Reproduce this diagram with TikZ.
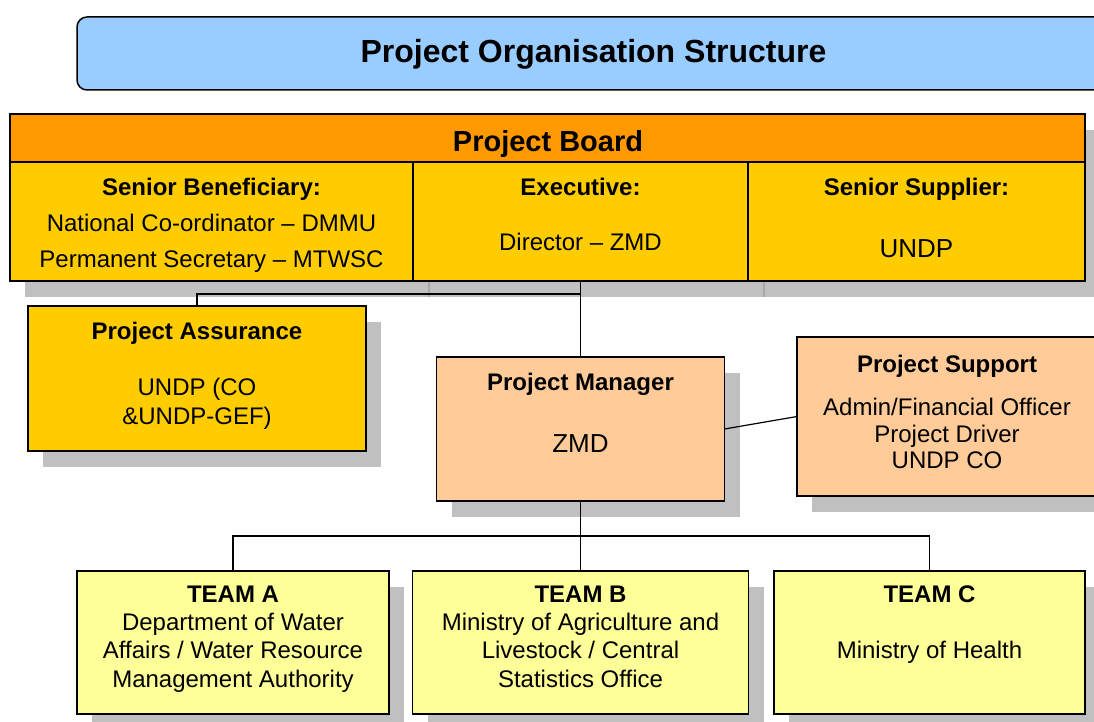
\documentclass[tikz,border=0pt]{standalone}
\usepackage{fontspec}
\setmainfont{Liberation Sans}
\usetikzlibrary{shadows}

\definecolor{titleblue}{HTML}{99CCFF}
\definecolor{boardorange}{HTML}{FF9900}
\definecolor{boardgold}{HTML}{FFCC00}
\definecolor{peach}{HTML}{FFCC99}
\definecolor{teamyellow}{HTML}{FFFF99}
\definecolor{shadegray}{HTML}{C0C0C0}
\definecolor{shadeline}{HTML}{A8A8A8}

\begin{document}
\begin{tikzpicture}[x=1pt, y=-1pt,
    box/.style={draw, line width=1.5pt, inner sep=0pt, outer sep=0pt},
    shadowed/.style={drop shadow={shadow xshift=15pt, shadow yshift=-16pt, fill=shadegray, opacity=1}},
    txt/.style={anchor=base, inner sep=0pt, font=\fontsize{24}{28}\selectfont},
    hd/.style={anchor=base, inner sep=0pt, font=\fontsize{24}{28}\selectfont\bfseries},
    big/.style={anchor=base, inner sep=0pt, font=\fontsize{26}{30}\selectfont},
    link/.style={line width=1.2pt}]
  \useasboundingbox (0,0) rectangle (1094,722);

  % title bar
  \node[box, rounded corners=10pt, fill=titleblue, minimum width=1033pt, minimum height=73pt] (title) at (593.5,53.5) {};
  \node[anchor=base, inner sep=0pt, font=\fontsize{32}{38}\selectfont\bfseries] (title-t) at (593.5,63) {Project Organisation Structure};

  % project board
  \node[box, shadowed, fill=boardorange, minimum width=1075pt, minimum height=48pt] (board) at (547.5,138) {};
  \node[anchor=base, inner sep=0pt, font=\fontsize{29}{34}\selectfont\bfseries] (board-t) at (548,152) {Project Board};
  \node[box, shadowed, fill=boardgold, minimum width=403pt, minimum height=119pt] (ben) at (211.5,221.5) {};
  \node[box, shadowed, fill=boardgold, minimum width=335pt, minimum height=119pt] (exec) at (580.5,221.5) {};
  \node[box, shadowed, fill=boardgold, minimum width=337pt, minimum height=119pt] (supp) at (916.5,221.5) {};
  \draw[shadeline, line width=1.5pt] (429,282) -- (429,297);
  \draw[shadeline, line width=1.5pt] (764,282) -- (764,297);

  \node[hd] (ben-t) at (211.5,195) {Senior Beneficiary:};
  \node[txt] (ben-1) at (211.5,231) {National Co-ordinator -- DMMU};
  \node[txt] (ben-2) at (211.5,267) {Permanent Secretary -- MTWSC};
  \node[hd] (exec-t) at (580.5,195) {Executive:};
  \node[txt] (exec-1) at (580.5,250) {Director -- ZMD};
  \node[hd] (supp-t) at (916.5,195) {Senior Supplier:};
  \node[big] (supp-1) at (916.5,257) {UNDP};

  % assurance, manager, support
  \node[box, shadowed, fill=boardgold, minimum width=338pt, minimum height=145pt] (pa) at (197,378.5) {};
  \node[hd] (pa-t) at (197,339) {Project Assurance};
  \node[txt] (pa-1) at (197,395) {UNDP (CO};
  \node[txt] (pa-2) at (197,424) {\&UNDP-GEF)};

  \node[box, shadowed, fill=peach, minimum width=288pt, minimum height=144pt] (pm) at (580.5,429) {};
  \node[hd] (pm-t) at (580.5,390) {Project Manager};
  \node[big] (pm-1) at (580.5,452) {ZMD};

  \node[box, shadowed, fill=peach, minimum width=300pt, minimum height=159pt] (ps) at (947,416.5) {};
  \node[hd] (ps-t) at (947,372) {Project Support};
  \node[txt] (ps-1) at (947,415) {Admin/Financial Officer};
  \node[txt] (ps-2) at (947,442) {Project Driver};
  \node[txt] (ps-3) at (947,468) {UNDP CO};

  % teams
  \node[box, shadowed, fill=teamyellow, minimum width=312pt, minimum height=143pt] (teama) at (233,642.5) {};
  \node[hd] (teama-t) at (233,602) {TEAM A};
  \node[txt] (teama-1) at (233,630) {Department of Water};
  \node[txt] (teama-2) at (233,658) {Affairs / Water Resource};
  \node[txt] (teama-3) at (233,687) {Management Authority};

  \node[box, shadowed, fill=teamyellow, minimum width=336pt, minimum height=143pt] (teamb) at (580.5,642.5) {};
  \node[hd] (teamb-t) at (580.5,602) {TEAM B};
  \node[txt] (teamb-1) at (580.5,630) {Ministry of Agriculture and};
  \node[txt] (teamb-2) at (580.5,658) {Livestock / Central};
  \node[txt] (teamb-3) at (580.5,687) {Statistics Office};

  \node[box, shadowed, fill=teamyellow, minimum width=311pt, minimum height=143pt] (teamc) at (929.5,642.5) {};
  \node[hd] (teamc-t) at (929.5,602) {TEAM C};
  \node[txt] (teamc-1) at (929.5,658) {Ministry of Health};

  % connectors
  \coordinate (pa-bend) at (580.5,294);
  \coordinate (team-bus) at (580.5,536);
  \draw[link] (exec.south) -- (pm.north);
  \draw[link] (pa-bend) -| (pa.north);
  \draw[link] (pm.east) -- (ps.west);
  \draw[link] (pm.south) -- (teamb.north);
  \draw[link] (teama.north) |- (team-bus) -| (teamc.north);
\end{tikzpicture}
\end{document}
